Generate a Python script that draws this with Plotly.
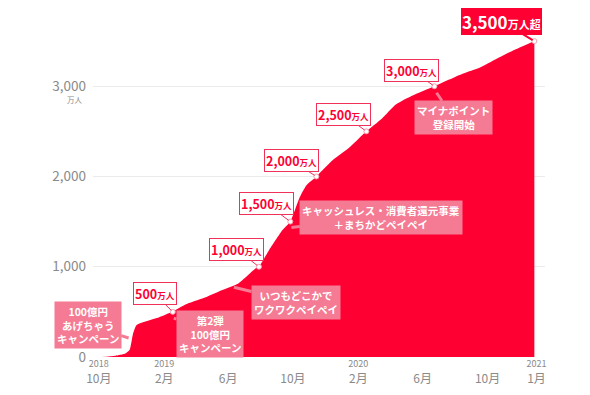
import plotly.graph_objects as go

# ---- data ----
dates = ["2018-10-05", "2018-11-01", "2018-11-20", "2018-11-28", "2018-12-04", "2018-12-11",
         "2019-01-18", "2019-02-17", "2019-03-19", "2019-04-20", "2019-05-20", "2019-06-21",
         "2019-07-23", "2019-07-29", "2019-08-17", "2019-09-11", "2019-09-26", "2019-10-13",
         "2019-10-26", "2019-11-14", "2019-12-14", "2020-01-15", "2020-02-16", "2020-03-16",
         "2020-04-12", "2020-05-12", "2020-06-23", "2020-08-15", "2020-09-16", "2020-10-18",
         "2020-11-17", "2020-12-28"]
users = [0, 15, 40, 80, 250, 354,
         431, 505, 597, 663, 740, 818,
         983, 1000, 1182, 1403, 1500, 1760,
         1900, 2000, 2177, 2320, 2500, 2640,
         2800, 2895, 3000, 3138, 3204, 3304,
         3392, 3500]

milestone_dates = ["2019-02-17", "2019-07-29", "2019-09-26", "2019-11-14", "2020-02-16", "2020-06-23", "2020-12-28"]
milestone_values = [500, 1000, 1500, 2000, 2500, 3000, 3500]
milestone_nums = ["500", "1,000", "1,500", "2,000", "2,500", "3,000", "3,500"]

event_labels = ["100億円<br>あげちゃう<br>キャンペーン", "第2弾<br>100億円<br>キャンペーン",
                "いつもどこかで<br>ワクワクペイペイ", "キャッシュレス・消費者還元事業<br>＋まちかどペイペイ",
                "マイナポイント<br>登録開始"]
event_dates = ["2018-11-26", "2019-02-19", "2019-06-12", "2019-09-28", "2020-06-27"]
event_values = [210, 431, 773, 1436, 2928]

x_tickvals = ["2018-10-01", "2019-02-01", "2019-06-01", "2019-10-01", "2020-02-01",
              "2020-06-01", "2020-10-01", "2021-01-01"]
x_years = ["2018", "2019", "", "", "2020", "", "", "2021"]
x_months = ["10月", "2月", "6月", "10月", "2月", "6月", "10月", "1月"]

y_tickvals = [0, 1000, 2000, 3000]
y_ticktext = ["0", "1,000", "2,000", "3,000"]

RED = "#ff0033"
PINK = "#f57a93"
BUB = "#f0315a"
GRAY = "#8a8a8a"
FONT = "Noto Sans CJK JP"

fig = go.Figure()
fig.add_trace(go.Scatter(x=dates, y=users, mode="lines", fill="tozeroy",
                         line=dict(color=RED, width=0, shape="spline", smoothing=0.5), fillcolor=RED,
                         hoverinfo="skip", showlegend=False))
fig.add_trace(go.Scatter(x=milestone_dates, y=milestone_values, mode="markers",
                         marker=dict(size=5, color="white", line=dict(color="#f7a0b0", width=1)),
                         hoverinfo="skip", showlegend=False))

x_ticktext = [(f"<span style='font-size:9px'>{y}</span><br>{m}" if y else f"<br>{m}")
              for y, m in zip(x_years, x_months)]

offsets = [(-18, -18), (-22, -17), (-24, -18), (-25, -16), (-23, -17), (-23, -16)]
for d, v, n, (ax, ay) in zip(milestone_dates[:-1], milestone_values[:-1], milestone_nums[:-1], offsets):
    fig.add_annotation(x=d, y=v, ax=ax, ay=ay,
                       text=f"<b>{n}<span style='font-size:8.5px'>万人</span></b>",
                       showarrow=True, arrowhead=0, arrowcolor=BUB, arrowwidth=1, standoff=2,
                       font=dict(family=FONT, size=12.5, color=RED),
                       bgcolor="white", bordercolor=BUB, borderwidth=1, borderpad=1)
# final milestone
fig.add_annotation(x=milestone_dates[-1], y=milestone_values[-1], ax=-33, ay=-20,
                   text=f"<b>{milestone_nums[-1]}<span style='font-size:11px'>万人超</span></b>",
                   showarrow=True, arrowhead=0, arrowcolor=RED, arrowwidth=2, standoff=2,
                   font=dict(family=FONT, size=17, color="white"),
                   bgcolor=RED, bordercolor=RED, borderwidth=1, borderpad=0)

ev_offsets = [(-41, -13), (36, 16), (62, 15), (90, -10), (17, 25)]
for lab, d, v, (ax, ay) in zip(event_labels, event_dates, event_values, ev_offsets):
    fig.add_annotation(x=d, y=v, ax=ax, ay=ay, text=f"<b>{lab}</b>",
                       showarrow=True, arrowhead=0, arrowcolor=PINK, arrowwidth=3, standoff=0,
                       font=dict(family=FONT, size=10.5, color="white"),
                       bgcolor=PINK, borderpad=2, align="center")

fig.add_annotation(xref="paper", x=0, xanchor="right", xshift=-8, y=3000, yshift=-13,
                   text="万人", showarrow=False, font=dict(family=FONT, size=7.5, color=GRAY))

fig.update_layout(
    width=590, height=395,
    margin=dict(l=93, r=45, t=5, b=38),
    paper_bgcolor="white", plot_bgcolor="white",
    font=dict(family=FONT, color=GRAY),
    xaxis=dict(type="date", range=["2018-09-20", "2021-01-17"], showgrid=False, zeroline=False,
               showline=False, tickvals=x_tickvals, ticktext=x_ticktext, ticks="",
               ticklabelstandoff=-3,
               tickfont=dict(family=FONT, size=12, color=GRAY)),
    yaxis=dict(range=[0, 3900], tickvals=y_tickvals, ticktext=y_ticktext, showgrid=True,
               gridcolor="#ebebeb", gridwidth=1, zeroline=False, showline=False, ticks="",
               ticklabelstandoff=6,
               tickfont=dict(family=FONT, size=13.5, color=GRAY)),
)

fig.write_html("out.html")
